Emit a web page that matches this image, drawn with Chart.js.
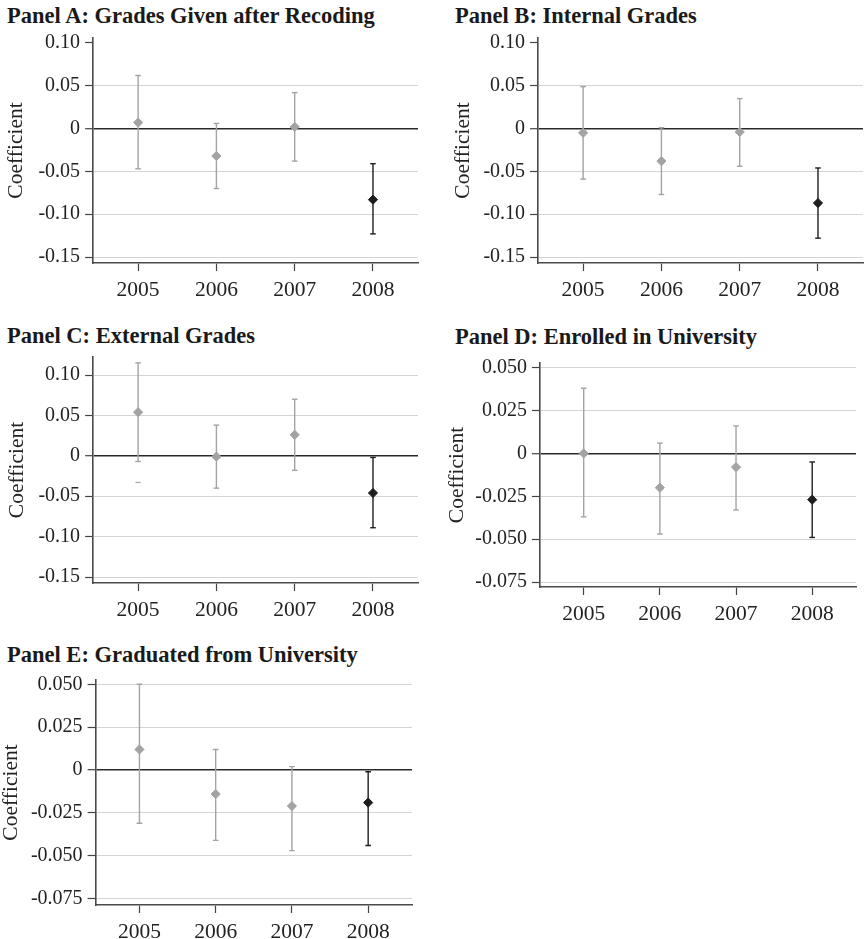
<!DOCTYPE html>
<html>
<head>
<meta charset="utf-8">
<script src="https://cdn.jsdelivr.net/npm/chart.js@4.4.1/dist/chart.umd.min.js"></script>
<style>
  body { margin: 0; background: #fff; }
  #page { position: relative; width: 867px; height: 939px; overflow: hidden; }
  .title { position: absolute; font-family: "Liberation Serif", serif; font-weight: bold; font-size: 22.5px; line-height: 22.5px; color: #1a1a1a; white-space: nowrap; }
  canvas { position: absolute; }
</style>
</head>
<body>
<div id="page"></div>
<script>
// data
const years = [2005, 2006, 2007, 2008];
const highlightYear = 2008;

const wideTicks = [0.10, 0.05, 0, -0.05, -0.10, -0.15];
const wideTickLabels = ['0.10', '0.05', '0', '-0.05', '-0.10', '-0.15'];
const narrowTicks = [0.05, 0.025, 0, -0.025, -0.05, -0.075];
const narrowTickLabels = ['0.050', '0.025', '0', '-0.025', '-0.050', '-0.075'];

const recodedCoef = [0.007, -0.032, 0.002, -0.083];
const recodedLow = [-0.047, -0.070, -0.038, -0.123];
const recodedHigh = [0.062, 0.006, 0.042, -0.041];

const internalCoef = [-0.005, -0.038, -0.004, -0.087];
const internalLow = [-0.059, -0.077, -0.044, -0.128];
const internalHigh = [0.049, 0.001, 0.035, -0.046];

const externalCoef = [0.054, -0.001, 0.026, -0.046];
const externalLow = [-0.007, -0.040, -0.018, -0.089];
const externalHigh = [0.115, 0.038, 0.070, -0.002];
const externalStrayYear = [2005];
const externalStray = [-0.033];

const enrolledCoef = [0.000, -0.020, -0.008, -0.027];
const enrolledLow = [-0.037, -0.047, -0.033, -0.049];
const enrolledHigh = [0.038, 0.006, 0.016, -0.005];

const graduatedCoef = [0.012, -0.014, -0.021, -0.019];
const graduatedLow = [-0.031, -0.041, -0.047, -0.044];
const graduatedHigh = [0.050, 0.012, 0.002, -0.001];

const GRAY = '#a3a3a3';
const DARK = '#1e1e1e';
const SERIF = '"Liberation Serif", serif';

// panel layout (page pixels)
const panels = [
  { title: 'Panel A: Grades Given after Recoding', tx: 7, tb: 24,
    axisX: 93, top: 38, right: 418, bottom: 263, labelX: 15.5,
    yMin: -0.157, yMax: 0.1058, ticks: wideTicks, labels: wideTickLabels, skipTop: true,
    coef: recodedCoef, low: recodedLow, high: recodedHigh },
  { title: 'Panel B: Internal Grades', tx: 455, tb: 24,
    axisX: 538, top: 38, right: 863, bottom: 263, labelX: 462.5,
    yMin: -0.157, yMax: 0.1058, ticks: wideTicks, labels: wideTickLabels, skipTop: true,
    coef: internalCoef, low: internalLow, high: internalHigh },
  { title: 'Panel C: External Grades', tx: 7, tb: 344,
    axisX: 93, top: 357, right: 418, bottom: 583, labelX: 16.5,
    yMin: -0.1574, yMax: 0.1223, ticks: wideTicks, labels: wideTickLabels, skipTop: false,
    coef: externalCoef, low: externalLow, high: externalHigh,
    strayX: externalStrayYear, strayY: externalStray },
  { title: 'Panel D: Enrolled in University', tx: 455, tb: 345,
    axisX: 540, top: 363, right: 857, bottom: 587, labelX: 456.7,
    yMin: -0.0779, yMax: 0.0527, ticks: narrowTicks, labels: narrowTickLabels, skipTop: false,
    coef: enrolledCoef, low: enrolledLow, high: enrolledHigh },
  { title: 'Panel E: Graduated from University', tx: 7, tb: 663,
    axisX: 96, top: 680, right: 413, bottom: 905, labelX: 11,
    yMin: -0.0787, yMax: 0.0525, ticks: narrowTicks, labels: narrowTickLabels, skipTop: false,
    coef: graduatedCoef, low: graduatedLow, high: graduatedHigh }
];

const page = document.getElementById('page');
const PAD_TOP = 20, PAD_RIGHT = 6, X_H = 45;

function drawPanel(p) {
  const t = document.createElement('div');
  t.className = 'title';
  t.textContent = p.title;
  t.style.left = p.tx + 'px';
  t.style.top = (p.tb - 18.8) + 'px';
  page.appendChild(t);

  // y scale width so that the rotated axis title lands at labelX
  const yW = p.axisX - p.labelX + 16.6;
  const canvas = document.createElement('canvas');
  canvas.width = yW + (p.right - p.axisX) + PAD_RIGHT;
  canvas.height = PAD_TOP + (p.bottom - p.top) + X_H;
  canvas.style.left = (p.axisX - yW) + 'px';
  canvas.style.top = (p.top - PAD_TOP) + 'px';
  page.appendChild(canvas);

  const datasets = [];
  years.forEach((yr, i) => {
    const c = yr === highlightYear ? DARK : GRAY;
    datasets.push({
      type: 'line',
      data: [{ x: yr, y: p.low[i] }, { x: yr, y: p.high[i] }],
      borderColor: c,
      borderWidth: 1.4,
      pointStyle: 'line',
      pointRadius: 2.8,
      pointBorderWidth: 1.4,
      pointBorderColor: c,
    });
  });
  if (p.strayY) {
    datasets.push({
      type: 'scatter',
      data: p.strayY.map((v, i) => ({ x: p.strayX[i], y: v })),
      pointStyle: 'line',
      pointRadius: 2.6,
      pointBorderWidth: 1.2,
      pointBorderColor: GRAY,
    });
  }
  datasets.push({
    type: 'scatter',
    data: years.map((yr, i) => ({ x: yr, y: p.coef[i] })),
    pointStyle: 'rectRot',
    pointRadius: 4.6,
    pointBorderWidth: 1,
    backgroundColor: years.map(yr => yr === highlightYear ? DARK : GRAY),
    pointBorderColor: years.map(yr => yr === highlightYear ? DARK : GRAY),
  });

  new Chart(canvas, {
    type: 'scatter',
    data: { datasets: datasets },
    options: {
      responsive: false,
      animation: false,
      layout: { padding: { top: PAD_TOP, right: PAD_RIGHT, left: 0, bottom: 0 } },
      plugins: { legend: { display: false }, tooltip: { enabled: false } },
      scales: {
        x: {
          type: 'linear',
          min: 2004.425,
          max: 2008.575,
          afterBuildTicks: s => { s.ticks = years.map(v => ({ value: v })); },
          afterFit: s => { s.height = X_H; },
          ticks: {
            color: '#222',
            font: { family: SERIF, size: 21.5 },
            padding: 6,
            maxRotation: 0,
            callback: v => String(v),
          },
          grid: { drawOnChartArea: false, tickLength: 8, tickColor: '#444', tickWidth: 1.2 },
          border: { color: '#4a4a4a', width: 1.6 },
        },
        y: {
          min: p.yMin,
          max: p.yMax,
          afterBuildTicks: s => { s.ticks = p.ticks.map(v => ({ value: v })); },
          afterFit: s => { s.width = yW; },
          ticks: {
            color: '#222',
            font: { family: SERIF, size: 20 },
            padding: 5,
            callback: (v, i) => p.labels[i],
          },
          grid: {
            color: ctx => {
              if (ctx.tick && ctx.tick.value === 0) return '#2a2a2a';
              if (p.skipTop && ctx.index === 0) return 'rgba(0,0,0,0)';
              return '#d4d4d4';
            },
            lineWidth: ctx => (ctx.tick && ctx.tick.value === 0) ? 1.4 : 1,
            tickLength: 8,
            tickColor: '#444',
            tickWidth: 1.2,
          },
          border: { color: '#4a4a4a', width: 1.6 },
          title: {
            display: true,
            text: 'Coefficient',
            color: '#222',
            font: { family: SERIF, size: 21.5 },
            padding: { top: 4, bottom: 0 },
          },
        },
      },
    },
  });
}

panels.forEach(drawPanel);
</script>
</body>
</html>
